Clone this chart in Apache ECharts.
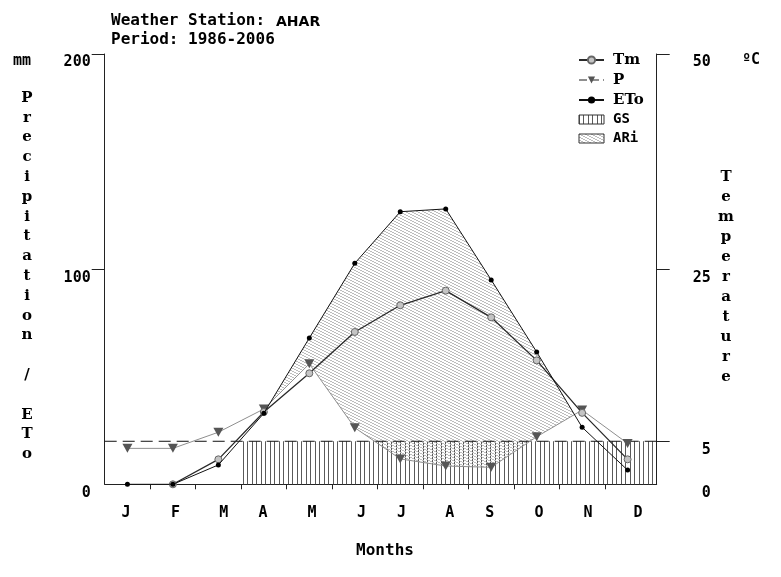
<!DOCTYPE html>
<html><head><meta charset="utf-8">
<script src="https://cdn.jsdelivr.net/npm/echarts@6/dist/echarts.min.js"></script>
<style>html,body{margin:0;padding:0;background:#fff}#c{width:781px;height:577px}</style>
</head><body><div id="c"></div>
<script>
// ---------------- data ----------------
const months = ['J','F','M','A','M','J','J','A','S','O','N','D'];
const tmC    = [null, 0, 2.9, 8.4, 12.9, 17.7, 20.8, 22.5, 19.4, 14.4, 8.3, 2.9];   // mean temperature, °C
const precip = [16.7, 16.7, 24.2, 35, 56, 26.3, 11.8, 8.5, 7.9, 22.1, 34.5, 19];    // mm
const eto    = [0, 0, 9, 33, 68, 102.7, 126.7, 128, 95, 61.5, 26.5, 6.6];            // mm
const gsMonths = [0,0,0,1,1,1,1,1,1,1,1,1];   // growing season flags
const gsThresholdMm = 20;                      // 5 °C line (= 20 mm)
const leftTickValues  = [0, 100, 200];
const rightTickValues = [0, 5, 25, 50];
const legendNames = ['Tm','P','ETo','GS','ARi'];

// ---------------- layout ----------------
const X_MAX = 12.14;
const monthLabelAt = [0.47, 1.56, 2.62, 3.48, 4.56, 5.65, 6.53, 7.59, 8.47, 9.55, 10.63, 11.73];
const MONO = 'DejaVu Sans Mono';
const SERIF = 'DejaVu Serif';

function makePattern(w, h, draw) {
  const c = document.createElement('canvas');
  c.width = w; c.height = h;
  draw(c.getContext('2d'));
  return { image: c, repeat: 'repeat' };
}
const vHatch = makePattern(9, 4, g => { g.fillStyle = '#5a5a5a'; g.fillRect(0,0,1,4); g.fillRect(4,0,1,4); });
const dHatch = makePattern(6, 3, g => {
  g.fillStyle = '#bdbdbd';
  for (let x = 0; x < 6; x++) g.fillRect(x, Math.floor(x/2), 1, 1);
});

const xc = i => i + 0.5;
const toXY = arr => arr.map((v, i) => [xc(i), v]);

function ariPolygons() {
  const polys = []; let upper = [], lower = [];
  for (let i = 0; i < 12; i++) {
    const d = eto[i] - precip[i];
    if (i > 0) {
      const dp = eto[i-1] - precip[i-1];
      if ((dp > 0) !== (d > 0)) {
        const t = dp / (dp - d);
        const x = xc(i-1) + t;
        const y = precip[i-1] + t * (precip[i] - precip[i-1]);
        upper.push([x, y]); lower.push([x, y]);
        if (!(d > 0)) { polys.push(upper.concat(lower.slice().reverse())); upper = []; lower = []; }
      }
    }
    if (d > 0) { upper.push([xc(i), eto[i]]); lower.push([xc(i), precip[i]]); }
  }
  if (upper.length) polys.push(upper.concat(lower.slice().reverse()));
  return polys;
}

const axisFont = { fontFamily: MONO, fontWeight: 'bold', fontSize: 15, color: '#000' };

const chart = echarts.init(document.getElementById('c'), null, { renderer: 'canvas' });
chart.setOption({
  animation: false,
  backgroundColor: '#fff',
  grid: { left: 104.7, right: 124.3, top: 54, bottom: 92.7, containLabel: false },
  xAxis: {
    type: 'value', min: 0, max: X_MAX,
    axisLine: { show: true, lineStyle: { color: '#222', width: 1 } },
    axisTick: { show: true, length: 5, lineStyle: { color: '#222' }, customValues: [1,2,3,4,5,6,7,8,9,10,11] },
    axisLabel: Object.assign({ margin: 21, customValues: monthLabelAt,
      formatter: (v) => { const k = monthLabelAt.indexOf(v); return k >= 0 ? months[k] : ''; } }, axisFont),
    splitLine: { show: false }
  },
  yAxis: [{
    type: 'value', min: 0, max: 200, position: 'left',
    axisLine: { show: true, lineStyle: { color: '#222', width: 1 } },
    axisTick: { show: true, length: 13, lineStyle: { color: '#222' }, customValues: [100, 200] },
    axisLabel: Object.assign({ margin: 14, customValues: leftTickValues, verticalAlign: 'top', padding: [1,0,0,0] }, axisFont),
    splitLine: { show: false }
  }, {
    type: 'value', min: 0, max: 50, position: 'right',
    axisLine: { show: true, lineStyle: { color: '#222', width: 1 } },
    axisTick: { show: true, length: 13, lineStyle: { color: '#222' }, customValues: [5, 25, 50] },
    axisLabel: Object.assign({ margin: 54, align: 'right', customValues: rightTickValues, verticalAlign: 'top', padding: [1,0,0,0] }, axisFont),
    splitLine: { show: false }
  }],
  legend: {
    orient: 'vertical', left: 578, top: 52.5, itemWidth: 25, itemHeight: 9, itemGap: 5, padding: 0,
    textStyle: { fontFamily: SERIF, fontWeight: 'bold', fontSize: 15, color: '#000', padding: [0,0,0,4] },
    data: [
      { name: legendNames[0] },
      { name: legendNames[1], lineStyle: { type: 'dashed' } },
      { name: legendNames[2] },
      { name: legendNames[3], icon: 'rect', itemStyle: { color: vHatch, borderColor: '#333', borderWidth: 1 }, textStyle: { fontFamily: MONO, fontSize: 14 } },
      { name: legendNames[4], icon: 'rect', itemStyle: { color: dHatch, borderColor: '#333', borderWidth: 1 }, textStyle: { fontFamily: MONO, fontSize: 14 } }
    ]
  },
  series: [
    {
      name: 'GS', type: 'custom', z: 1, data: [[0, 0]], itemStyle: { color: vHatch },
      renderItem: (params, api) => {
        const children = [];
        let i = 0;
        while (i < 12) {
          if (!gsMonths[i]) { i++; continue; }
          let j = i; while (j + 1 < 12 && gsMonths[j+1]) j++;
          const x0 = i, x1 = (j === 11 ? X_MAX : j + 1);
          const p0 = api.coord([x0, gsThresholdMm]), p1 = api.coord([x1, 0]);
          children.push({ type: 'rect', shape: { x: p0[0], y: p0[1], width: p1[0]-p0[0], height: p1[1]-p0[1] }, style: { fill: vHatch } });
          i = j + 1;
        }
        return { type: 'group', children };
      }
    },
    {
      name: 'ARi', type: 'custom', z: 2, data: [[0, 0]], itemStyle: { color: dHatch },
      renderItem: (params, api) => ({
        type: 'group',
        children: ariPolygons().map(poly => ({ type: 'polygon', shape: { points: poly.map(p => api.coord(p)) }, style: { fill: dHatch } }))
      })
    },
    {
      name: 'threshold', type: 'line', z: 3, silent: true, symbol: 'none',
      data: [[0, gsThresholdMm], [X_MAX, gsThresholdMm]],
      lineStyle: { color: '#111', width: 1, type: [12, 6] }
    },
    {
      name: 'P', type: 'line', z: 4, data: toXY(precip),
      symbol: 'triangle', symbolRotate: 180, symbolSize: [10, 9],
      itemStyle: { color: '#555' }, lineStyle: { color: '#8f8f8f', width: 1 }
    },
    {
      name: 'Tm', type: 'line', yAxisIndex: 1, z: 5, data: toXY(tmC),
      symbol: 'circle', symbolSize: 7,
      itemStyle: { color: '#c4c4c4', borderColor: '#666', borderWidth: 1 },
      lineStyle: { color: '#2a2a2a', width: 1.3 }
    },
    {
      name: 'ETo', type: 'line', z: 6, data: toXY(eto),
      symbol: 'circle', symbolSize: 5,
      itemStyle: { color: '#000' }, lineStyle: { color: '#111', width: 1 }
    }
  ],
  graphic: [
    { type: 'text', x: 111, y: 21, style: { text: 'Weather Station: ', font: 'bold 16px ' + MONO, fill: '#000', verticalAlign: 'middle' } },
    { type: 'text', x: 276, y: 22, style: { text: 'AHAR', font: 'bold 14px "DejaVu Sans"', fill: '#000', verticalAlign: 'middle' } },
    { type: 'text', x: 111, y: 40, style: { text: 'Period: 1986-2006', font: 'bold 16px ' + MONO, fill: '#000', verticalAlign: 'middle' } },
    { type: 'text', x: 22, y: 61, style: { text: 'mm', font: 'bold 15px ' + MONO, fill: '#000', align: 'center', verticalAlign: 'middle' } },
    { type: 'text', x: 27, y: 88, style: { text: 'P\nr\ne\nc\ni\np\ni\nt\na\nt\ni\no\nn\n \n/\n \nE\nT\no', font: 'bold 15px ' + SERIF, lineHeight: 19.8, fill: '#000', align: 'center', verticalAlign: 'top' } },
    { type: 'text', x: 751, y: 60, style: { text: 'ºC', font: 'bold 15px ' + MONO, fill: '#000', align: 'center', verticalAlign: 'middle' } },
    { type: 'text', x: 726, y: 167, style: { text: 'T\ne\nm\np\ne\nr\na\nt\nu\nr\ne', font: 'bold 15px ' + SERIF, lineHeight: 20, fill: '#000', align: 'center', verticalAlign: 'top' } },
    { type: 'text', x: 385, y: 551, style: { text: 'Months', font: 'bold 16px ' + MONO, fill: '#000', align: 'center', verticalAlign: 'middle' } }
  ]
});
</script>
</body></html>
